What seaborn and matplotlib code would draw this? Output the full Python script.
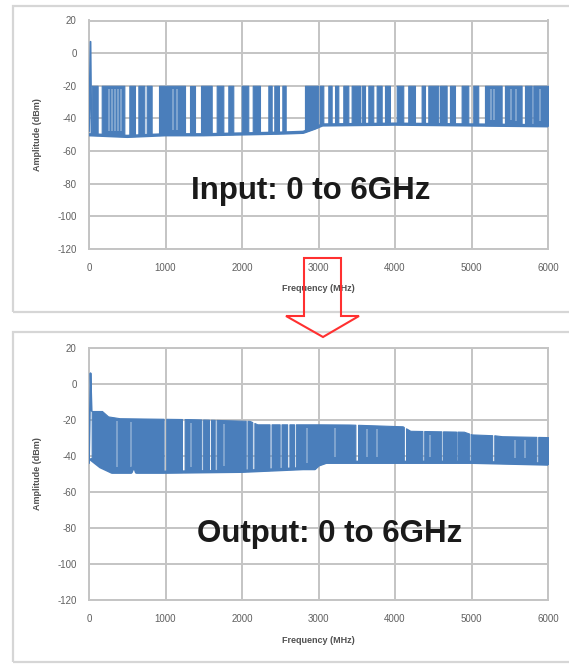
import numpy as np
import matplotlib
matplotlib.use("Agg")
import matplotlib.pyplot as plt
from matplotlib.patches import Rectangle, Polygon
import seaborn as sns

# ---------------- data (frequency in MHz, amplitude in dBm) ----------------
# Input spectrum: frequency ranges where the comb lines fill the band
input_band_start = [35, 166, 527, 645, 754, 915, 1320, 1464, 1669, 1821, 1996, 2140,
                    2344, 2422, 2527, 2823, 3019, 3128, 3216, 3324, 3433, 3564, 3651,
                    3760, 3869, 4022, 4173, 4348, 4435, 4588, 4718, 4871, 5023, 5176,
                    5437, 5699, 5808]
input_band_end = [113, 462, 601, 723, 819, 1255, 1385, 1604, 1756, 1886, 2082, 2235,
                  2388, 2483, 2571, 2997, 3063, 3172, 3259, 3390, 3542, 3608, 3716,
                  3826, 3934, 4108, 4261, 4392, 4566, 4675, 4784, 4958, 5088, 5394,
                  5655, 5786, 6000]
input_floor_freq = [0, 500, 1000, 1500, 2000, 2500, 2800, 2950, 3050, 4000, 5000, 6000]
input_floor_amp = [-50, -51, -50, -50, -49.5, -49, -48.5, -46, -44, -43.5, -44, -44.5]
input_peak_freq = [0, 6000]
input_peak_amp = [-20, -20]
input_spur_freq = [0, 20, 32]
input_spur_amp = [-48, 7, -50]
# lighter, sparser lines inside the filled ranges
input_faint_freq = [260, 300, 340, 380, 420, 1100, 1150, 5250, 5300, 5520, 5580, 5900]

# Output spectrum
output_band_start = [35, 1010, 1250, 1492, 1594, 1668, 2072, 2162, 2386, 2516, 2620,
                     2704, 3517, 4144, 4382, 4628, 4815, 4990, 5298, 5872]
output_band_end = [975, 1215, 1468, 1568, 1643, 2048, 2134, 2360, 2492, 2590,
                   2680, 3482, 4115, 4358, 4606, 4797, 4970, 5270, 5848, 6000]
output_floor_freq = [30, 150, 300, 550, 590, 620, 1000, 2000, 2800, 2950, 3000, 3100,
                     4000, 5000, 6000]
output_floor_amp = [-42, -46, -49, -49, -45, -49, -49, -48.5, -47, -47, -45, -43.5,
                    -43.5, -43.5, -44.5]
output_peak_freq = [30, 170, 250, 400, 1300, 2100, 2200, 3000, 3400, 4100, 4200, 4900,
                    5000, 5300, 5400, 6000]
output_peak_amp = [-15, -15, -18, -19, -19.5, -20.5, -22.4, -22.4, -22.5, -23.5, -26,
                   -26.5, -28, -28.5, -29, -29.5]
output_spur_freq = [0, 20, 35]
output_spur_amp = [-44, 6, -15]
output_faint_freq = [361, 545, 1330, 1760, 2850, 3216, 3630, 3760, 4460, 5568, 5700]

x_ticks = [0, 1000, 2000, 3000, 4000, 5000, 6000]
y_ticks = [-120, -100, -80, -60, -40, -20, 0, 20]

BLUE = "#4a7ebb"
GRID = "#c4c4c4"

sns.set_theme(style="whitegrid")
plt.rcParams["font.family"] = ["Liberation Sans", "DejaVu Sans"]
plt.rcParams["axes.unicode_minus"] = False

W, H = 569, 665
fig = plt.figure(figsize=(W / 100, H / 100), dpi=100)
fig.patch.set_facecolor("white")


def fx(px):
    return px / W


def fy(py):
    return 1 - py / H


ax_in = fig.add_axes([fx(89), fy(249), (548 - 89) / W, (249 - 20.5) / H])
ax_out = fig.add_axes([fx(89), fy(600), (548 - 89) / W, (600 - 348) / H])


def draw_spectrum(ax, starts, ends, floor_f, floor_a, peak_f, peak_a,
                  spur_f, spur_a, faint_f):
    knots = np.unique(np.r_[floor_f, peak_f])
    for a, b in zip(starts, ends):
        xs = np.unique(np.r_[a, knots[(knots > a) & (knots < b)], b])
        lo = np.interp(xs, floor_f, floor_a)
        hi = np.interp(xs, peak_f, peak_a)
        ax.fill_between(xs, lo, hi, color=BLUE, edgecolor=BLUE, lw=0.8, zorder=3)
    ax.vlines(faint_f, np.interp(faint_f, floor_f, floor_a) + 3,
              np.interp(faint_f, peak_f, peak_a) - 2, color="white", alpha=0.35,
              lw=1.2, zorder=3.5)
    sns.lineplot(x=floor_f, y=floor_a, ax=ax, color=BLUE, lw=2.4,
                 estimator=None, sort=False, zorder=4)
    sns.lineplot(x=spur_f, y=spur_a, ax=ax, color=BLUE, lw=1.3,
                 estimator=None, sort=False, zorder=4)


def style_axes(ax, xlabel_y):
    ax.set_xlim(0, 6000)
    ax.set_ylim(-120, 20)
    ax.set_xticks(x_ticks)
    ax.set_yticks(y_ticks)
    ax.set_facecolor("white")
    ax.grid(True, color=GRID, lw=1.4)
    ax.set_axisbelow(True)
    for sp in ax.spines.values():
        sp.set_color(GRID)
        sp.set_linewidth(1.4)
    ax.tick_params(axis="both", length=3, width=1.2, color=GRID,
                   labelsize=7, labelcolor="#606060")
    ax.tick_params(axis="y", pad=6)
    ax.tick_params(axis="x", pad=7)
    ax.set_xlabel("Frequency (MHz)", fontsize=6.5, fontweight="bold", color="#505050")
    ax.set_ylabel("Amplitude (dBm)", fontsize=6.5, fontweight="bold", color="#505050")
    ax.xaxis.set_label_coords(0.5, xlabel_y)
    ax.yaxis.set_label_coords(-0.102, 0.5)


draw_spectrum(ax_in, input_band_start, input_band_end, input_floor_freq, input_floor_amp,
              input_peak_freq, input_peak_amp, input_spur_freq, input_spur_amp,
              input_faint_freq)
draw_spectrum(ax_out, output_band_start, output_band_end, output_floor_freq,
              output_floor_amp, output_peak_freq, output_peak_amp,
              output_spur_freq, output_spur_amp, output_faint_freq)
style_axes(ax_in, -0.153)
style_axes(ax_out, -0.143)

ax_in.text(2900, -89.6, "Input: 0 to 6GHz", ha="center", va="baseline",
           fontsize=22.5, fontweight="bold", color="#1a1a1a", zorder=6)
ax_out.text(3150, -87.8, "Output: 0 to 6GHz", ha="center", va="baseline",
            fontsize=22.5, fontweight="bold", color="#1a1a1a", zorder=6)

# chart frames
fig.add_artist(Rectangle((fx(13), fy(312)), (575 - 13) / W, (312 - 6) / H,
                         transform=fig.transFigure, fill=False, ec="#d6d6d6", lw=1.6))
fig.add_artist(Rectangle((fx(13), fy(662)), (575 - 13) / W, (662 - 332) / H,
                         transform=fig.transFigure, fill=False, ec="#d6d6d6", lw=1.6))

# downward arrow from input to output
arrow_px = [(304, 258), (341, 258), (341, 316), (359, 316), (323, 337),
            (286, 316), (304, 316)]
fig.add_artist(Polygon([(fx(x), fy(y)) for x, y in arrow_px], closed=True,
                       transform=fig.transFigure, fill=False, ec="#ff3030",
                       lw=1.5, zorder=10))

fig.savefig("out.png", dpi=100, facecolor="white")
